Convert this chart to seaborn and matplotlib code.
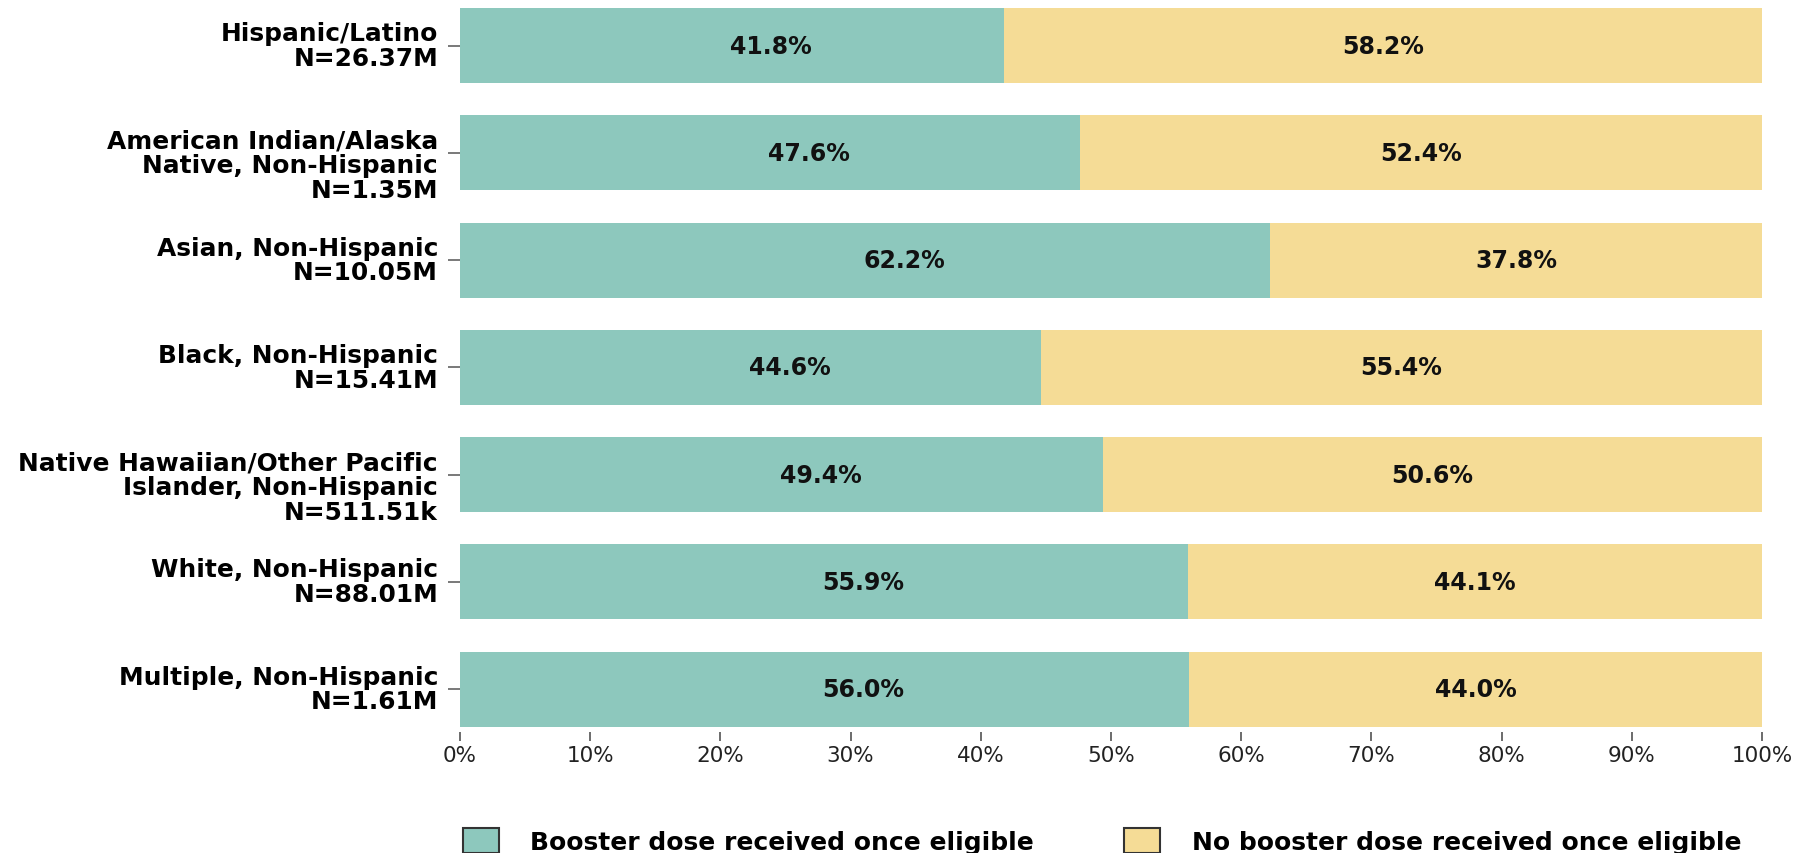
import matplotlib
matplotlib.use("Agg")
import matplotlib.pyplot as plt
import matplotlib.transforms as mtransforms
from matplotlib.patches import Patch
import seaborn as sns
import pandas as pd

# Population groups (top to bottom) and share of eligible people with / without a booster dose (%)
groups = [
    "Hispanic/Latino\nN=26.37M",
    "American Indian/Alaska\nNative, Non-Hispanic\nN=1.35M",
    "Asian, Non-Hispanic\nN=10.05M",
    "Black, Non-Hispanic\nN=15.41M",
    "Native Hawaiian/Other Pacific\nIslander, Non-Hispanic\nN=511.51k",
    "White, Non-Hispanic\nN=88.01M",
    "Multiple, Non-Hispanic\nN=1.61M",
]
booster = [41.8, 47.6, 62.2, 44.6, 49.4, 55.9, 56.0]
no_booster = [58.2, 52.4, 37.8, 55.4, 50.6, 44.1, 44.0]

series_names = ["Booster dose received once eligible",
                "No booster dose received once eligible"]
x_ticks = list(range(0, 101, 10))
x_tick_labels = [f"{t}%" for t in x_ticks]

TEAL = "#8DC8BD"
SAND = "#F5DC96"

sns.set_style("white")
plt.rcParams["font.family"] = ["DejaVu Sans"]

df = pd.DataFrame({
    "group": groups,
    "booster": booster,
    "no_booster": no_booster,
})
df["total"] = df["booster"] + df["no_booster"]

fig = plt.figure(figsize=(18.04, 8.54), dpi=100)
ax = fig.add_axes([460 / 1804, 1 - 733 / 854, 1302 / 1804, 724 / 854])

# Stacked horizontal bars: full-length sand bar, teal booster share drawn over it
sns.barplot(data=df, x="total", y="group", orient="h", color=SAND,
            width=0.7, saturation=1, linewidth=0, ax=ax)
sns.barplot(data=df, x="booster", y="group", orient="h", color=TEAL,
            width=0.7, saturation=1, linewidth=0, ax=ax)

for i, (b, n) in enumerate(zip(booster, no_booster)):
    ax.text(b / 2 + 3.0, i, f"{b:.1f}%", ha="center", va="center",
            fontsize=17, fontweight="bold", color="#111111")
    ax.text(b + n / 2, i, f"{n:.1f}%", ha="center", va="center",
            fontsize=17, fontweight="bold", color="#111111")

ax.set_xlim(0, 100)
ax.set_ylim(6.40, -0.35)
ax.set_xticks(x_ticks)
ax.set_xticklabels(x_tick_labels)
ax.set_xlabel("")
ax.set_ylabel("")
for s in ax.spines.values():
    s.set_visible(False)

ax.tick_params(axis="x", direction="out", length=6.5, width=1.1,
               color="#444444", pad=3, labelsize=15.5, labelcolor="#222222",
               bottom=True)
ax.tick_params(axis="y", direction="out", length=9, width=1.1,
               color="#555555", left=True, labelleft=False)

# Category labels: first line sits just above the tick, further lines run below
label_tf = mtransforms.blended_transform_factory(ax.transAxes, ax.transData)
line_step = 0.231
for i, g in enumerate(groups):
    for k, line in enumerate(g.split("\n")):
        ax.text(-22 / 1302, i - 0.051 + k * line_step, line, transform=label_tf,
                ha="right", va="baseline", fontsize=17.9, fontweight="bold",
                color="#000000")

# Legend entries placed separately along the bottom
for name, col, xpos in [(series_names[0], TEAL, 463), (series_names[1], SAND, 1124)]:
    leg = fig.legend(handles=[Patch(facecolor=col, edgecolor="#333333", linewidth=1.5)],
                     labels=[name], loc="center left",
                     bbox_to_anchor=(xpos / 1804, 1 - 842 / 854),
                     frameon=False, borderpad=0, borderaxespad=0,
                     handlelength=1.45, handleheight=1.15, handletextpad=1.25,
                     prop={"size": 18, "weight": "bold"})
    for t in leg.get_texts():
        t.set_color("#000000")

fig.savefig("out.png", dpi=100)
